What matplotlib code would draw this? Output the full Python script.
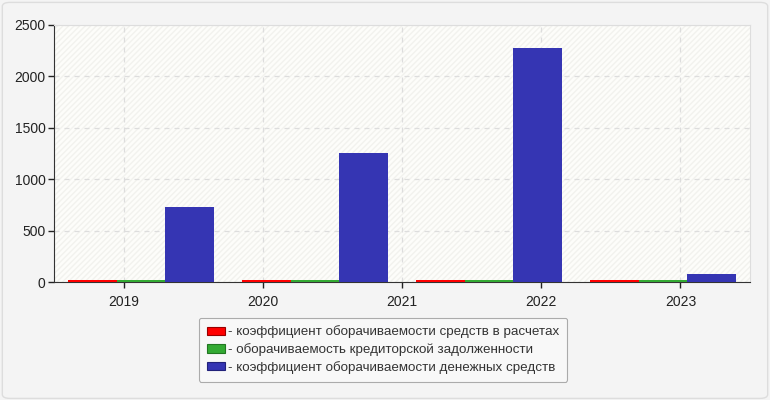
import matplotlib.pyplot as plt
from matplotlib.patches import Rectangle, FancyBboxPatch
import numpy as np

plt.rcParams['font.family'] = ['Liberation Sans', 'DejaVu Sans']

years = ["2019", "2020", "2021", "2022", "2023"]
# four bar groups, drawn on a separate slot grid from the year ticks (as in the source)
settlements = [18, 18, 18, 18]
payables = [16, 16, 16, 16]
cash = [730, 1255, 2275, 78]

labels = [
    "- коэффициент оборачиваемости средств в расчетах",
    "- оборачиваемость кредиторской задолженности",
    "- коэффициент оборачиваемости денежных средств",
]
colors = ["#ff0000", "#33aa33", "#3535b3"]
edge_colors = ["#990000", "#227722", "#22227a"]

fig = plt.figure(figsize=(7.7, 4), dpi=100, facecolor="#f4f4f4")
fig.patches.append(FancyBboxPatch((0.003, 0.004), 0.994, 0.99, boxstyle="round,pad=0,rounding_size=0.01",
                                  transform=fig.transFigure, facecolor="#f4f4f4", edgecolor="#dddddd",
                                  lw=1, zorder=-5))
ax = fig.add_axes([0.0701, 0.295, 0.9039, 0.6425])
ax.set_facecolor("#fdfdfa")
ax.add_patch(Rectangle((0, 0), 1, 1, transform=ax.transAxes, facecolor="none",
                       edgecolor="#f2f2ee", hatch="//////", lw=0, zorder=0))

n_groups = len(cash)
bw = 0.28
x = np.arange(n_groups) + 0.5
for i, series in enumerate([settlements, payables, cash]):
    ax.bar(x + (i - 1) * bw, series, width=bw, color=colors[i], zorder=3)

ax.set_xlim(0, n_groups)
ax.set_ylim(0, 2500)
tick_pos = (np.arange(len(years)) + 0.5) * n_groups / len(years)
ax.set_xticks(tick_pos)
ax.set_xticklabels(years)
ax.set_yticks([0, 500, 1000, 1500, 2000, 2500])
ax.tick_params(labelsize=10, colors="#222222", length=4, width=1, pad=2)
ax.tick_params(axis="x", pad=5)
ax.grid(True, linestyle=(0, (4, 4)), color="#dddddd", lw=0.9, zorder=1)
ax.set_axisbelow(True)
for side in ["top", "right"]:
    ax.spines[side].set_color("#dddddd")
for side in ["left", "bottom"]:
    ax.spines[side].set_color("#333333")

handles = [FancyBboxPatch((0, 0), 1, 1, boxstyle="round,pad=0,rounding_size=0.3",
                          facecolor=colors[i], edgecolor=edge_colors[i], lw=0.8) for i in range(3)]
leg = fig.legend(handles, labels, loc="center", bbox_to_anchor=(0.4975, 0.126),
                 fontsize=9.6, frameon=True, fancybox=True, handlelength=1.4, handleheight=0.6,
                 handletextpad=0.2, labelspacing=0.35, borderpad=0.6, labelcolor="#333333")
leg.get_frame().set_facecolor("#fafafa")
leg.get_frame().set_edgecolor("#999999")
leg.get_frame().set_linewidth(0.8)

fig.savefig("out.png", dpi=100, facecolor=fig.get_facecolor())
